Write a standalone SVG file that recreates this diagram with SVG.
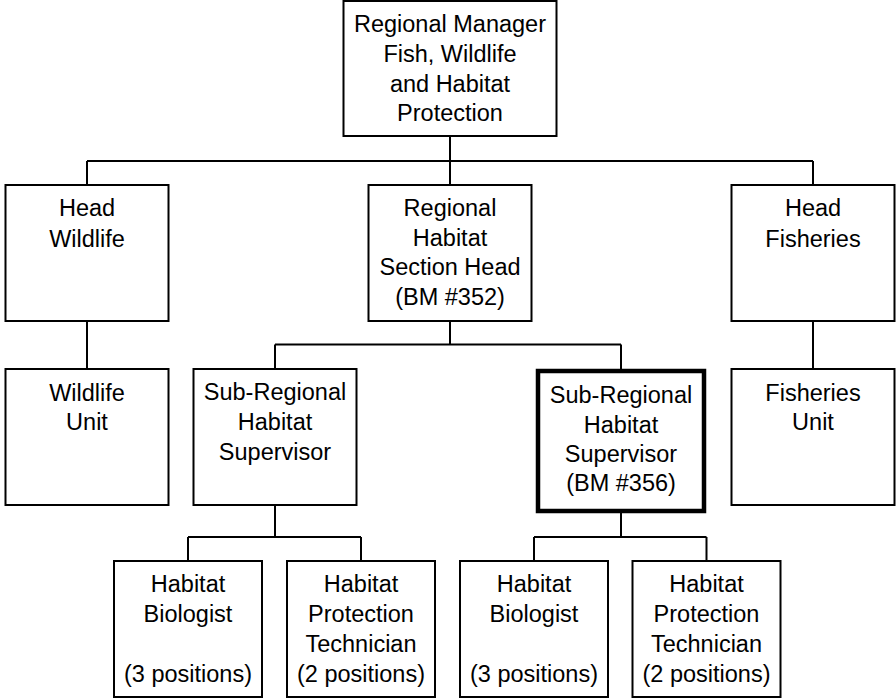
<svg xmlns="http://www.w3.org/2000/svg" width="896" height="698" viewBox="0 0 896 698">
<style>
.box{fill:#fff;stroke:#000;stroke-width:2}
.thick{fill:#fff;stroke:#000;stroke-width:4.5}
.conn{fill:none;stroke:#000;stroke-width:2}
text{font-family:"Liberation Sans",Arial,sans-serif;font-size:23.5px;fill:#000;text-anchor:middle}
</style>
<rect width="896" height="698" fill="#fff"/>
<g id="connectors">
<path class="conn" d="M450,136V185M87,161H813M87,161V185M813,161V185"/>
<path class="conn" d="M87,321V369M813,321V369"/>
<path class="conn" d="M450,321V344.5M275,344.5H621M275,344.5V369M621,344.5V371"/>
<path class="conn" d="M275,505V537M188,537H361M188,537V561M361,537V561"/>
<path class="conn" d="M621,511V537M534,537H706.5M534,537V561M706.5,537V561"/>
</g>
<g id="regional-manager">
<rect class="box" x="343.5" y="1" width="213" height="135"/>
<text x="450" y="32">Regional Manager</text>
<text x="450" y="62">Fish, Wildlife</text>
<text x="450" y="91.5">and Habitat</text>
<text x="450" y="121">Protection</text>
</g>
<g id="head-wildlife">
<rect class="box" x="5.5" y="185" width="163" height="136"/>
<text x="87" y="216">Head</text>
<text x="87" y="246.5">Wildlife</text>
</g>
<g id="regional-habitat-section-head">
<rect class="box" x="368.5" y="185" width="163" height="136"/>
<text x="450" y="215.5">Regional</text>
<text x="450" y="245.5">Habitat</text>
<text x="450" y="275">Section Head</text>
<text x="450" y="304.5">(BM #352)</text>
</g>
<g id="head-fisheries">
<rect class="box" x="731.5" y="185" width="163" height="136"/>
<text x="813" y="216">Head</text>
<text x="813" y="246.5">Fisheries</text>
</g>
<g id="wildlife-unit">
<rect class="box" x="5.5" y="369" width="163" height="136"/>
<text x="87" y="400.5">Wildlife</text>
<text x="87" y="430">Unit</text>
</g>
<g id="sub-regional-supervisor-1">
<rect class="box" x="193.5" y="369" width="163" height="136"/>
<text x="275" y="400">Sub-Regional</text>
<text x="275" y="430">Habitat</text>
<text x="275" y="459.5">Supervisor</text>
</g>
<g id="sub-regional-supervisor-2">
<rect class="thick" x="538" y="371" width="166" height="140"/>
<text x="621" y="403">Sub-Regional</text>
<text x="621" y="432.5">Habitat</text>
<text x="621" y="462">Supervisor</text>
<text x="621" y="491">(BM #356)</text>
</g>
<g id="fisheries-unit">
<rect class="box" x="731.5" y="369" width="163" height="136"/>
<text x="813" y="400.5">Fisheries</text>
<text x="813" y="430">Unit</text>
</g>
<g id="habitat-biologist-1">
<rect class="box" x="114" y="561" width="148" height="136"/>
<text x="188" y="591.5">Habitat</text>
<text x="188" y="621.5">Biologist</text>
<text x="188" y="681.5">(3 positions)</text>
</g>
<g id="habitat-protection-technician-1">
<rect class="box" x="287" y="561" width="148" height="136"/>
<text x="361" y="591.5">Habitat</text>
<text x="361" y="621.5">Protection</text>
<text x="361" y="651.5">Technician</text>
<text x="361" y="681.5">(2 positions)</text>
</g>
<g id="habitat-biologist-2">
<rect class="box" x="460" y="561" width="148" height="136"/>
<text x="534" y="591.5">Habitat</text>
<text x="534" y="621.5">Biologist</text>
<text x="534" y="681.5">(3 positions)</text>
</g>
<g id="habitat-protection-technician-2">
<rect class="box" x="632.5" y="561" width="148" height="136"/>
<text x="706.5" y="591.5">Habitat</text>
<text x="706.5" y="621.5">Protection</text>
<text x="706.5" y="651.5">Technician</text>
<text x="706.5" y="681.5">(2 positions)</text>
</g>
</svg>
